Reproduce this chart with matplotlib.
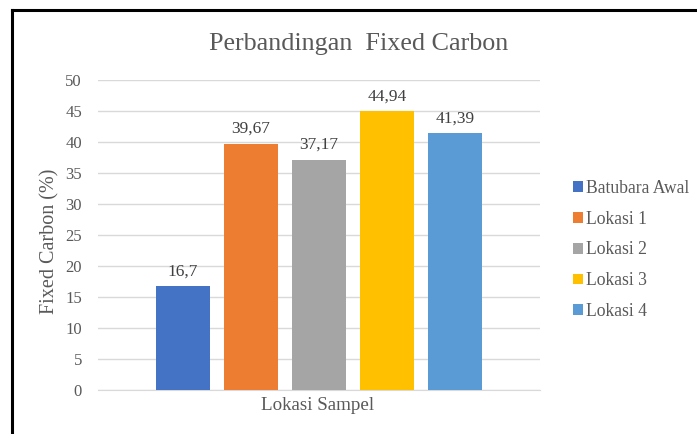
import matplotlib.pyplot as plt
from matplotlib.lines import Line2D

plt.rcParams['font.family'] = ['Liberation Serif', 'DejaVu Serif']

series = ['Batubara Awal', 'Lokasi 1', 'Lokasi 2', 'Lokasi 3', 'Lokasi 4']
values = [16.7, 39.67, 37.17, 44.94, 41.39]
labels = ['16,7', '39,67', '37,17', '44,94', '41,39']
colors = ['#4472C4', '#ED7D31', '#A5A5A5', '#FFC000', '#5B9BD5']
yticks = [0, 5, 10, 15, 20, 25, 30, 35, 40, 45, 50]

W, H = 697, 434
fig = plt.figure(figsize=(W / 100, H / 100), dpi=100)
# plot area in pixels: x 98..540, y 80..390
ax = fig.add_axes([98 / W, 1 - 390 / H, (540 - 98) / W, (390 - 80) / H])

txt = '#595959'
handles = []
for i, (s, v, lab, c) in enumerate(zip(series, values, labels, colors)):
    b = ax.bar(i - 2, v, width=0.8, color=c, label=s, zorder=3)
    handles.append(b)
    ax.text(i - 2, v + 1.8, lab, ha='center', va='baseline', fontsize=12.5, color='#404040')

ax.set_xlim(-3.25, 3.25)
ax.set_ylim(0, 50)
ax.set_yticks(yticks)
ax.set_yticklabels([str(t) for t in yticks], fontsize=12, color=txt)
ax.set_xticks([])
ax.tick_params(axis='y', length=0, pad=11.5)
ax.grid(axis='y', color='#D9D9D9', linewidth=1, zorder=0)
for sp in ['top', 'right', 'left']:
    ax.spines[sp].set_visible(False)
ax.spines['bottom'].set_color('#D9D9D9')

fig.text(50 / W, 1 - 241 / H, 'Fixed Carbon (%)', rotation=90, ha='center', va='center',
         fontsize=14.5, color=txt)
fig.text(318 / W, 1 - 406 / H, 'Lokasi Sampel', ha='center', va='center',
         fontsize=13.7, color=txt)
fig.text(359 / W, 1 - 44 / H, 'Perbandingan  Fixed Carbon', ha='center', va='center',
         fontsize=18.8, color=txt)

fig.legend(handles=handles, labels=series, loc='center left',
           bbox_to_anchor=(573 / W, 1 - 250 / H), frameon=False, fontsize=12.7,
           handlelength=0.57, handleheight=0.57, handletextpad=0.15, labelspacing=0.78,
           borderpad=0, borderaxespad=0, labelcolor=txt)

# outer border (only top and left visible in the crop)
fig.add_artist(Line2D([12 / W, 12 / W], [0, 1 - 10 / H], transform=fig.transFigure,
                      color='black', linewidth=2.2))
fig.add_artist(Line2D([12 / W, 1], [1 - 10 / H, 1 - 10 / H], transform=fig.transFigure,
                      color='black', linewidth=2.2))

fig.savefig('out.png', dpi=100)
